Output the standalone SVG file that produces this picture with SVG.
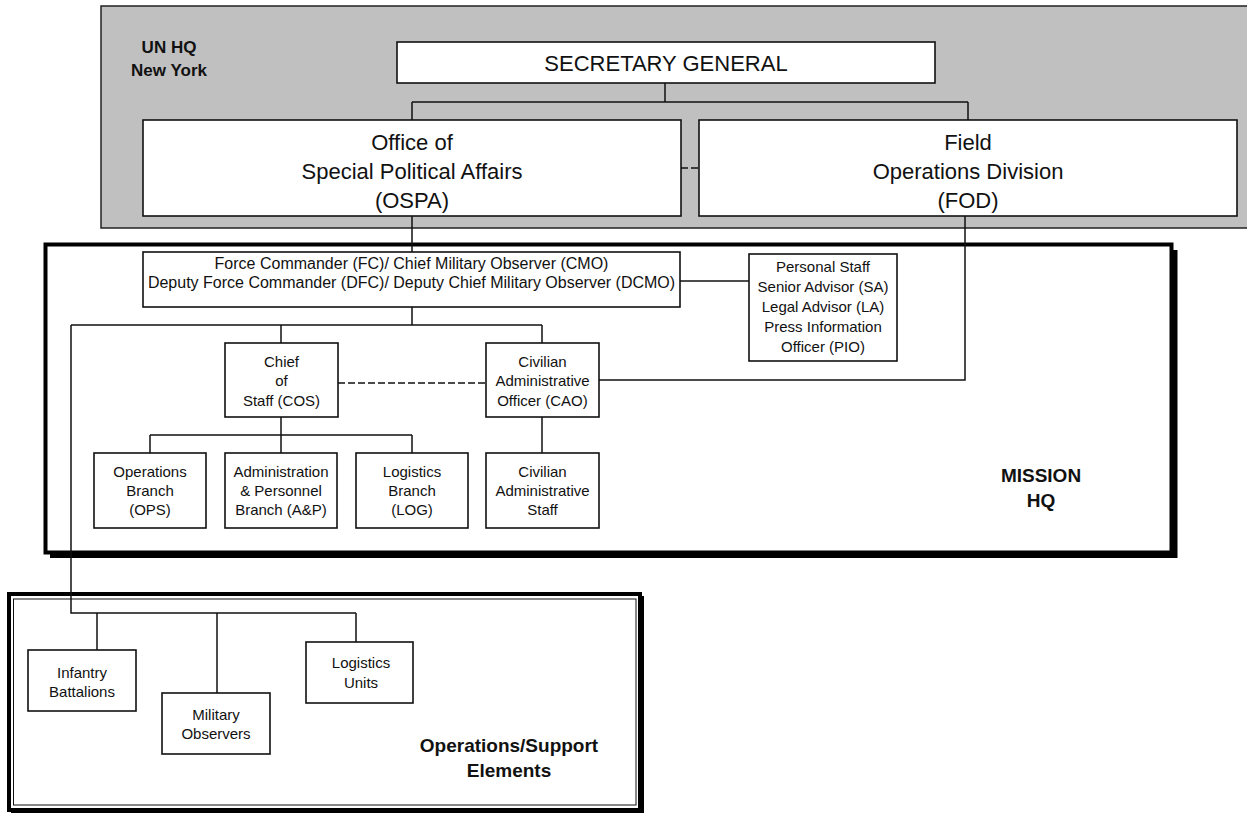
<svg xmlns="http://www.w3.org/2000/svg" width="1247" height="814" viewBox="0 0 1247 814">
<style>
.box{fill:#fff;stroke:#111;stroke-width:1.6}
.t{font-family:"Liberation Sans",Arial,sans-serif;font-size:15px;fill:#111;text-anchor:middle}
.tm{font-family:"Liberation Sans",Arial,sans-serif;font-size:16px;fill:#111;text-anchor:middle}
.tl{font-family:"Liberation Sans",Arial,sans-serif;font-size:22px;fill:#111;text-anchor:middle}
.tb{font-family:"Liberation Sans",Arial,sans-serif;font-weight:bold;fill:#111;text-anchor:middle}
.c{fill:none;stroke:#111;stroke-width:1.5}
.d{fill:none;stroke:#111;stroke-width:1.5;stroke-dasharray:7 3}
</style>
<g id="region-unhq">
<rect x="101" y="6" width="1160" height="222" fill="#c0c0c0" stroke="#222" stroke-width="1.5"/>
<text class="tb" x="169" y="53" font-size="17">UN HQ</text>
<text class="tb" x="169" y="76" font-size="17">New York</text>
</g>
<g id="region-mission">
<rect x="50" y="250" width="1127.5" height="308" fill="#000"/>
<rect x="45.5" y="244.5" width="1126" height="308" fill="#fff" stroke="#000" stroke-width="4"/>
<text class="tb" x="1041" y="482" font-size="19">MISSION</text>
<text class="tb" x="1041" y="507" font-size="19">HQ</text>
</g>
<g id="region-ops">
<rect x="11" y="596" width="633" height="217" fill="#000"/>
<rect x="9" y="594" width="631" height="216" fill="#fff" stroke="#000" stroke-width="4"/>
<rect x="13.5" y="599" width="622.5" height="206" fill="none" stroke="#111" stroke-width="1"/>
<text class="tb" x="509" y="752" font-size="19">Operations/Support</text>
<text class="tb" x="509" y="777" font-size="19">Elements</text>
</g>
<g id="connectors">
<path class="c" d="M665 83V102M412 102H968M412 102V120M968 102V120"/>
<path class="d" d="M681 168H699"/>
<path class="c" d="M412 216V252"/>
<path class="c" d="M965 216V380H599"/>
<path class="c" d="M680 281H749"/>
<path class="c" d="M412 307V325M71 325H542M281 325V343M542 325V343"/>
<path class="c" d="M71 325V613H356M97 613V650M217 613V693M356 613V642"/>
<path class="d" d="M338 383H486"/>
<path class="c" d="M281 417V435M150 435H412M150 435V453M281 435V453M412 435V453"/>
<path class="c" d="M542 417V453"/>
</g>
<g id="sg">
<rect class="box" x="397" y="42" width="538" height="41"/>
<text class="tl" x="666" y="70.5">SECRETARY GENERAL</text>
</g>
<g id="ospa">
<rect class="box" x="143" y="120" width="538" height="96"/>
<text class="tl" x="412" y="150">Office of</text>
<text class="tl" x="412" y="179">Special Political Affairs</text>
<text class="tl" x="412" y="208">(OSPA)</text>
</g>
<g id="fod">
<rect class="box" x="699" y="120" width="538" height="96"/>
<text class="tl" x="968" y="150">Field</text>
<text class="tl" x="968" y="179">Operations Division</text>
<text class="tl" x="968" y="208">(FOD)</text>
</g>
<g id="fc">
<rect class="box" x="143" y="252" width="537" height="55"/>
<text class="tm" x="411.5" y="269">Force Commander (FC)/ Chief Military Observer (CMO)</text>
<text class="tm" x="411.5" y="288">Deputy Force Commander (DFC)/ Deputy Chief Military Observer (DCMO)</text>
</g>
<g id="ps">
<rect class="box" x="749" y="254" width="148" height="107"/>
<text class="t" x="823" y="272">Personal Staff</text>
<text class="t" x="823" y="292">Senior Advisor (SA)</text>
<text class="t" x="823" y="312">Legal Advisor (LA)</text>
<text class="t" x="823" y="332">Press Information</text>
<text class="t" x="823" y="352">Officer (PIO)</text>
</g>
<g id="cos">
<rect class="box" x="225" y="343" width="113" height="74"/>
<text class="t" x="281.5" y="367">Chief</text>
<text class="t" x="281.5" y="386">of</text>
<text class="t" x="281.5" y="406">Staff (COS)</text>
</g>
<g id="cao">
<rect class="box" x="486" y="343" width="113" height="74"/>
<text class="t" x="542.5" y="367">Civilian</text>
<text class="t" x="542.5" y="386">Administrative</text>
<text class="t" x="542.5" y="406">Officer (CAO)</text>
</g>
<g id="opsb">
<rect class="box" x="94" y="453" width="112" height="75"/>
<text class="t" x="150" y="477">Operations</text>
<text class="t" x="150" y="496">Branch</text>
<text class="t" x="150" y="515">(OPS)</text>
</g>
<g id="ap">
<rect class="box" x="225" y="453" width="112" height="75"/>
<text class="t" x="281" y="477" fill="#333">Administration</text>
<text class="t" x="281" y="496">&amp; Personnel</text>
<text class="t" x="281" y="515">Branch (A&amp;P)</text>
</g>
<g id="log">
<rect class="box" x="356" y="453" width="112" height="75"/>
<text class="t" x="412" y="477">Logistics</text>
<text class="t" x="412" y="496">Branch</text>
<text class="t" x="412" y="515">(LOG)</text>
</g>
<g id="cas">
<rect class="box" x="486" y="453" width="113" height="75"/>
<text class="t" x="542.5" y="477">Civilian</text>
<text class="t" x="542.5" y="496">Administrative</text>
<text class="t" x="542.5" y="515">Staff</text>
</g>
<g id="inf">
<rect class="box" x="28" y="650" width="108" height="61"/>
<text class="t" x="82" y="678">Infantry</text>
<text class="t" x="82" y="697">Battalions</text>
</g>
<g id="milobs">
<rect class="box" x="162" y="693" width="108" height="61"/>
<text class="t" x="216" y="720">Military</text>
<text class="t" x="216" y="739">Observers</text>
</g>
<g id="logu">
<rect class="box" x="306" y="642" width="107" height="61"/>
<text class="t" x="361" y="668">Logistics</text>
<text class="t" x="361" y="688">Units</text>
</g>
</svg>
